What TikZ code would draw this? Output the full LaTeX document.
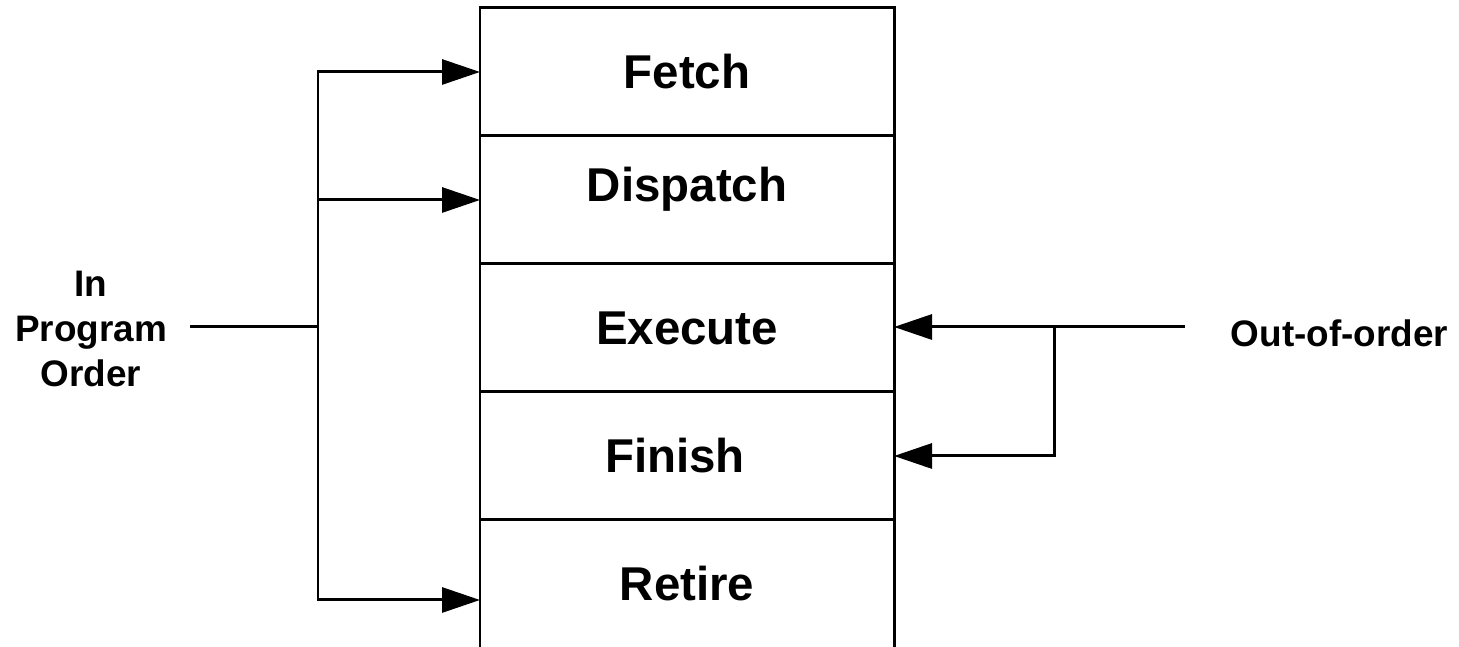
\documentclass[tikz,border=0pt]{standalone}
\usepackage{fontspec}
\setmainfont{Liberation Sans}
\usetikzlibrary{%
  arrows.meta,%
  positioning,% wg. " of "
  calc
}

\begin{document}
\begin{tikzpicture}
[draw=black, line width=1.7pt, >={Triangle[length=7.6mm,width=5mm]},
stage/.style={rectangle, draw, inner sep=0pt, outer sep=0pt, minimum width=8.28cm, minimum height=2.56cm, font=\fontsize{27}{32}\selectfont\bfseries},
side/.style={align=center, inner sep=0pt, font=\fontsize{21}{25.6}\selectfont\bfseries}]
\useasboundingbox (0,0) rectangle (29.18,12.94);

% pipeline stages
\node[stage] (fetch) at (13.74,11.50) {Fetch};
\node[stage, below=0pt of fetch] (dispatch) {\raisebox{0.64cm}{Dispatch}};
\node[stage, below=0pt of dispatch] (execute) {Execute};
\node[stage, below=0pt of execute] (finish) {Finish\hspace*{0.48cm}};
\node[stage, draw=none, below=0pt of finish] (retire) {Retire};
\draw (retire.north west) -- (retire.south west);
\draw (retire.north east) -- (retire.south east);

% labels
\node[side] (inorder) at (1.82,6.36) {In\\Program\\Order};
\node[side] (outorder) at (26.79,6.27) {Out-of-order};

% in order side
\coordinate (inend) at (3.80,6.40);
\coordinate (bus) at (6.36,6.40);
\draw (inend) -- (bus);
\draw[->] (bus) |- (fetch.west);
\draw[->] (bus) |- (dispatch.west);
\draw[->] (bus) |- ([yshift=-0.32cm]retire.west);

% out of order side
\coordinate (outend) at (23.70,6.40);
\coordinate (split) at (21.08,6.40);
\draw[->] (outend) -- (execute.east |- outend);
\draw[->] (split) |- (finish.east);
\end{tikzpicture}
\end{document}
